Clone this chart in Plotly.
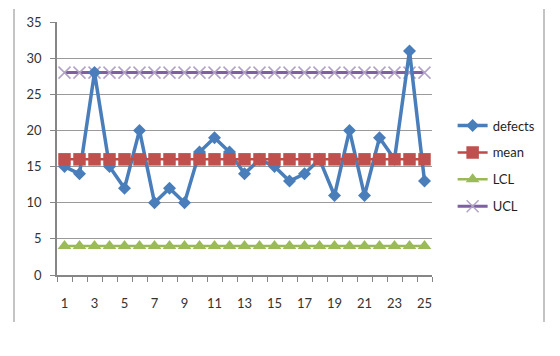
import plotly.graph_objects as go

samples = list(range(1, 26))
defects = [15, 14, 28, 15, 12, 20, 10, 12, 10, 17, 19, 17, 14, 16, 15, 13, 14, 16, 11, 20, 11, 19, 16, 31, 13]
mean_val = [16] * 25
lcl_val = [4] * 25
ucl_val = [28] * 25
x_labels = list(range(1, 26, 2))
y_ticks = list(range(0, 36, 5))

FONT = "Lato"
fig = go.Figure()

fig.add_trace(go.Scatter(x=samples, y=ucl_val, name="UCL", mode="lines+markers",
                         line=dict(color="#7d60a0", width=3),
                         marker=dict(symbol="x-thin", size=12, line=dict(color="#b3a2c7", width=1.5), color="#b3a2c7"),
                         legendgroup="d", legendrank=4))
fig.add_trace(go.Scatter(x=samples, y=lcl_val, name="LCL", mode="lines+markers",
                         line=dict(color="#98b954", width=2.5),
                         marker=dict(symbol="triangle-up", size=12, color="#9bbb59"),
                         legendgroup="c", legendrank=3))
fig.add_trace(go.Scatter(x=samples, y=defects, name="defects", mode="lines+markers",
                         line=dict(color="#4a7ebb", width=3.5),
                         marker=dict(symbol="diamond", size=10, color="#4a7ebb"),
                         legendgroup="a", legendrank=1))
fig.add_trace(go.Scatter(x=samples, y=mean_val, name="mean", mode="lines+markers",
                         line=dict(color="#be4b48", width=2.5),
                         marker=dict(symbol="square", size=12.5, color="#c0504d"),
                         legendgroup="b", legendrank=2))

fig.update_layout(
    width=560, height=356,
    margin=dict(l=57, r=128, t=22, b=81),
    paper_bgcolor="white", plot_bgcolor="white",
    font=dict(family=FONT, size=13, color="#333333"),
    showlegend=True,
    legend=dict(x=1.055, y=0.65, xanchor="left", yanchor="top",
                traceorder="grouped", tracegroupgap=7, itemwidth=30,
                font=dict(family=FONT, size=13, color="#1f1f1f"),
                bgcolor="rgba(0,0,0,0)"),
    xaxis=dict(range=[0.5, 25.5], tickmode="array", tickvals=x_labels,
               ticktext=[str(v) for v in x_labels],
               ticks="outside", ticklen=16, tickcolor="rgba(0,0,0,0)",
               showgrid=False, zeroline=False,
               showline=True, linecolor="#868686", linewidth=1.5,
               minor=dict(tickmode="linear", tick0=0.5, dtick=1, ticks="outside",
                          ticklen=5, tickcolor="#868686", tickwidth=1, showgrid=False),
               tickfont=dict(family=FONT, size=13, color="#333333")),
    yaxis=dict(range=[0, 35], tickmode="array", tickvals=y_ticks,
               ticks="outside", ticklen=5, tickcolor="#868686",
               ticklabelstandoff=6,
               showgrid=True, gridcolor="#9a9a9a", gridwidth=1,
               zeroline=False, showline=True, linecolor="#868686", linewidth=1.5,
               tickfont=dict(family=FONT, size=13, color="#333333")),
    shapes=[
        dict(type="line", xref="paper", yref="paper",
             x0=(14 - 57) / 375, x1=(14 - 57) / 375,
             y0=(275 - 322) / 253, y1=(275 - 9) / 253,
             line=dict(color="#b0b0b0", width=1.5)),
        dict(type="line", xref="paper", yref="paper",
             x0=(544 - 57) / 375, x1=(544 - 57) / 375,
             y0=(275 - 322) / 253, y1=(275 - 9) / 253,
             line=dict(color="#b0b0b0", width=1.5)),
    ],
)

fig.write_html("out.html")
